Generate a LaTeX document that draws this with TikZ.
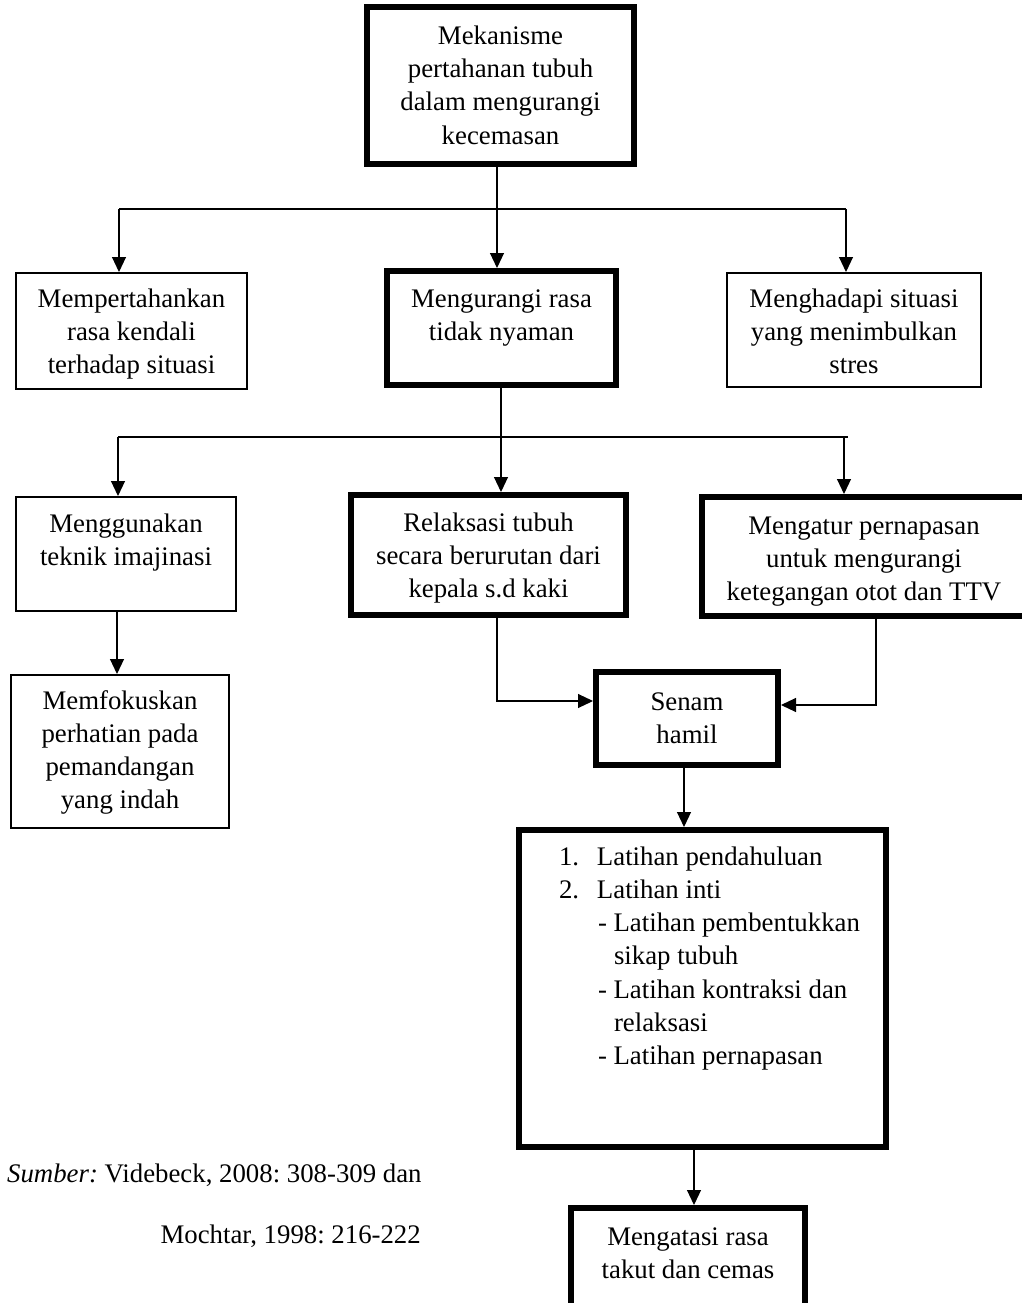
\documentclass[tikz,border=0pt]{standalone}
\usepackage{fontspec}
\setmainfont{Liberation Serif}
\usetikzlibrary{arrows.meta}
\newcommand{\bxt}[4]{\parbox[c][#2pt][t]{#1pt}{\vspace*{#3pt}\centering\strut #4\par}}
\begin{document}
\frenchspacing
\begin{tikzpicture}[x=1pt,y=-1pt,
  thinbox/.style={draw, line width=2pt, inner sep=0pt},
  thickbox/.style={draw, line width=6pt, inner sep=0pt},
  conn/.style={line width=1.1pt},
  arr/.style={conn, -{Triangle[length=15pt,width=14pt]}},
  font=\fontsize{26.8pt}{33.3pt}\selectfont\frenchspacing]
\useasboundingbox (0,0) rectangle (1021,1303);

% boxes
\node[thickbox] (B1) at (500.5,85.5) {\bxt{267}{157}{14}{Mekanisme\\ pertahanan tubuh\\ dalam mengurangi\\ kecemasan}};
\node[thinbox] (B2) at (131.5,331) {\bxt{231}{116}{10.7}{Mempertahankan\\ rasa kendali\\ terhadap situasi}};
\node[thickbox] (B3) at (501.5,328) {\bxt{229}{114}{12.7}{Mengurangi rasa\\ tidak nyaman}};
\node[thinbox] (B4) at (854,330) {\bxt{254}{114}{10.7}{Menghadapi situasi\\ yang menimbulkan\\ stres}};
\node[thinbox] (B5) at (126,554) {\bxt{220}{114}{11.7}{Menggunakan\\ teknik imajinasi}};
\node[thickbox] (B6) at (488.5,555) {\bxt{275}{120}{12.7}{Relaksasi tubuh\\ secara berurutan dari\\ kepala s.d kaki}};
\node[thickbox] (B7) at (864,556.5) {\bxt{324}{119}{13.7}{Mengatur pernapasan\\ untuk mengurangi\\ ketegangan otot dan TTV}};
\node[thinbox] (B8) at (120,751.5) {\bxt{218}{153}{10.7}{Memfokuskan\\ perhatian pada\\ pemandangan\\ yang indah}};
\node[thickbox] (B9) at (687,718.5) {\bxt{182}{93}{14.7}{Senam\\ hamil}};
\node[thickbox] (B10) at (702.5,988.5) {\parbox[c][317pt][t]{367pt}{\vspace*{11.7pt}\raggedright
\strut\hspace*{40pt}\makebox[38pt][l]{1.}Latihan pendahuluan\\
\hspace*{40pt}\makebox[38pt][l]{2.}Latihan inti\\
\hspace*{79pt}- Latihan pembentukkan\\
\hspace*{95pt}sikap tubuh\\
\hspace*{79pt}- Latihan kontraksi dan\\
\hspace*{95pt}relaksasi\\
\hspace*{79pt}- Latihan pernapasan\par}};
\node[thickbox] (B11) at (688,1259) {\bxt{234}{102}{13.7}{Mengatasi rasa\\ takut dan cemas}};

% source
\node[anchor=base west, inner sep=0pt] (src1) at (7,1182) {\textit{Sumber:} Videbeck, 2008: 308-309 dan};
\node[anchor=base east, inner sep=0pt] (src2) at (421,1243) {Mochtar, 1998: 216-222};

% level 1 connectors
\coordinate (j1) at (497,209);
\coordinate (h1L) at (119,209);
\coordinate (h1R) at (846,209);
\draw[conn] (B1.south -| j1) -- (j1);
\draw[conn] (h1L) -- (h1R);
\draw[arr] (h1L) -- (h1L |- B2.north);
\draw[arr] (j1) -- (j1 |- B3.north);
\draw[arr] (h1R) -- (h1R |- B4.north);

% level 2 connectors
\coordinate (j2) at (501,437);
\coordinate (h2L) at (118,437);
\coordinate (h2R) at (848,437);
\coordinate (v2R) at (844,437);
\draw[conn] (B3.south -| j2) -- (j2);
\draw[conn] (h2L) -- (h2R);
\draw[arr] (h2L) -- (h2L |- B5.north);
\draw[arr] (j2) -- (j2 |- B6.north);
\draw[arr] (v2R) -- (v2R |- B7.north);

% lower connectors
\coordinate (x58) at (117,650);
\draw[arr] (B5.south -| x58) -- (B8.north -| x58);
\coordinate (e69) at (497,701);
\draw[arr] (B6.south -| e69) -- (e69) -- (B9.west |- e69);
\coordinate (e79) at (876,705);
\draw[arr] (B7.south -| e79) -- (e79) -- (B9.east |- e79);
\coordinate (x910) at (684,800);
\draw[arr] (B9.south -| x910) -- (B10.north -| x910);
\coordinate (x1011) at (694,1180);
\draw[arr] (B10.south -| x1011) -- (B11.north -| x1011);
\end{tikzpicture}
\end{document}
